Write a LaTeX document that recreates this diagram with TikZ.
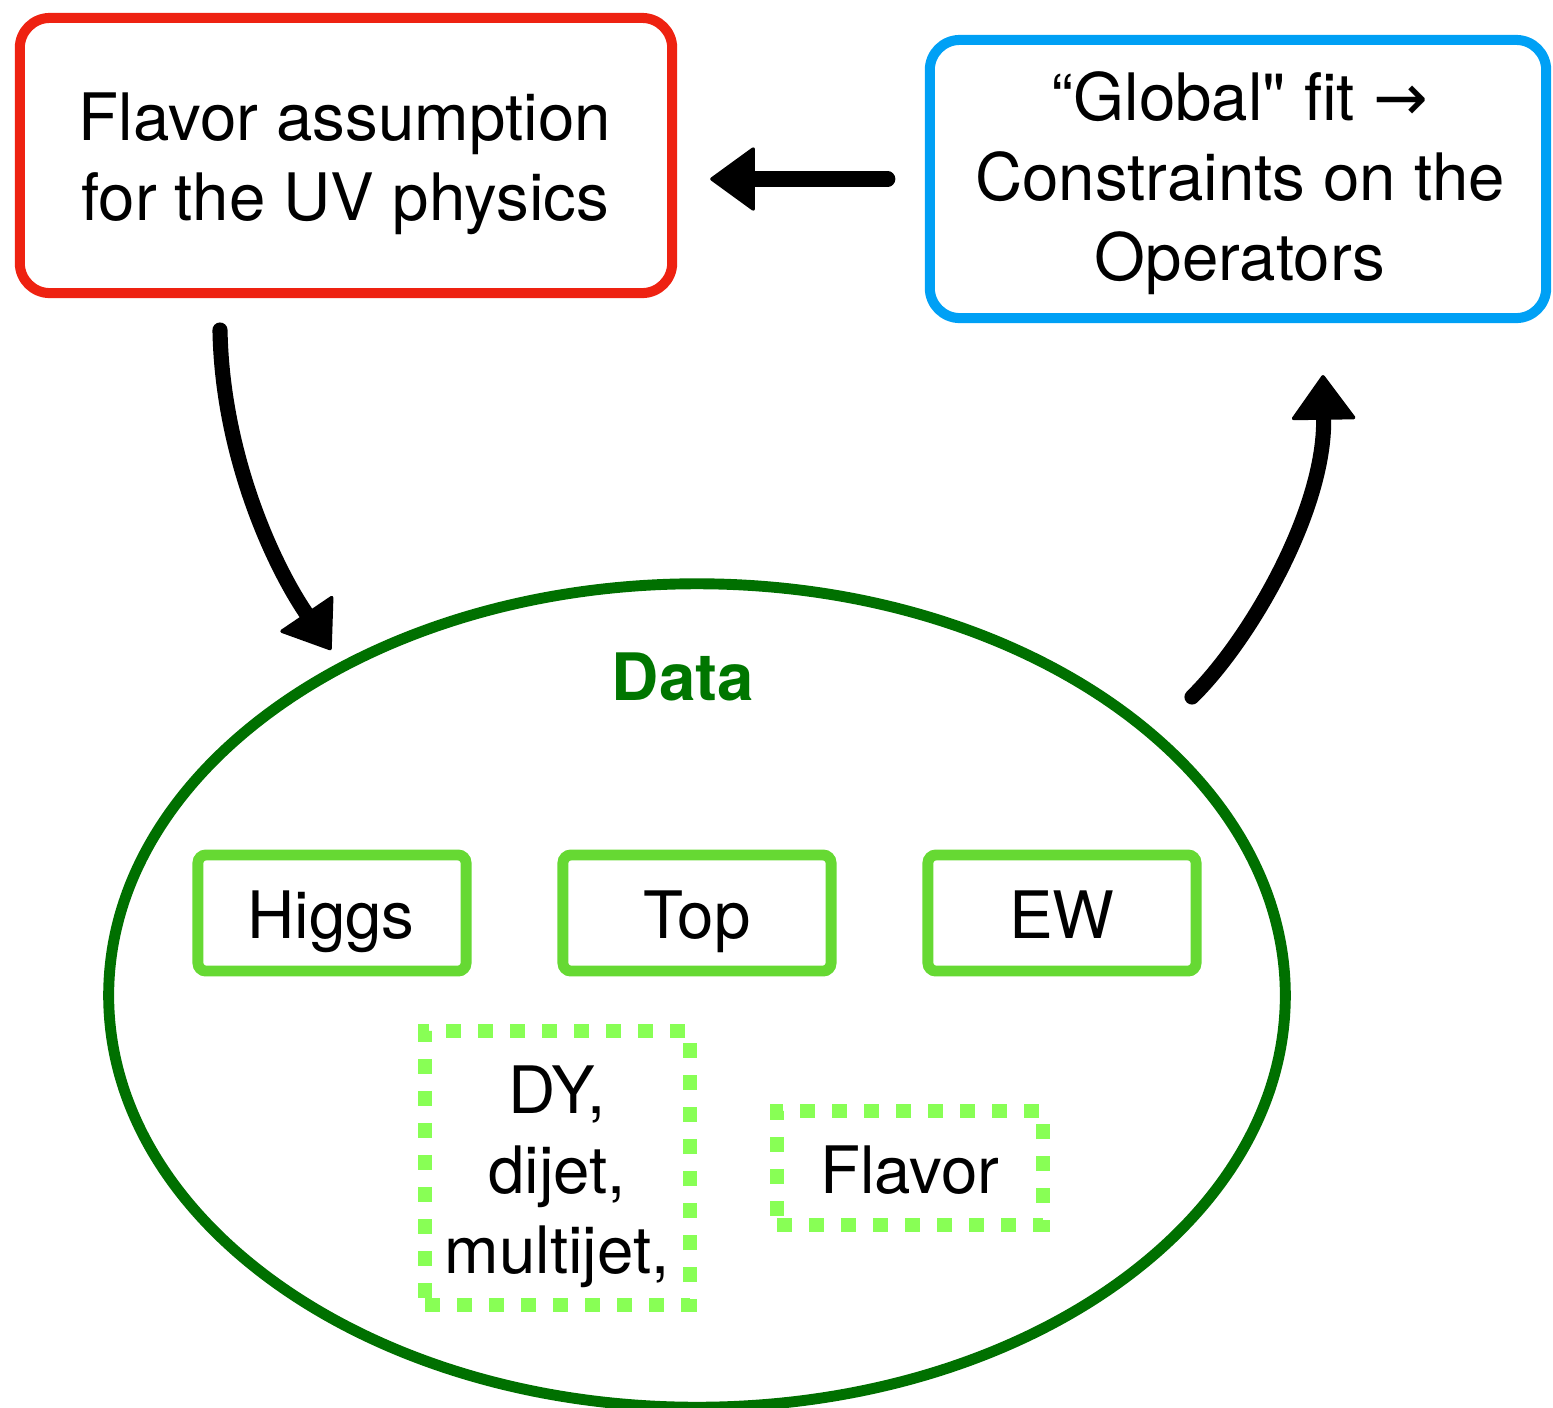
\documentclass[tikz,border=0pt]{standalone}
\usepackage{fontspec}
\setmainfont{TeX Gyre Heros}[Ligatures=TeXOff]
\newfontfamily\dejavu{DejaVu Sans}
\usetikzlibrary{arrows.meta,shapes.geometric}
\definecolor{boxred}{RGB}{238,34,17}
\definecolor{boxblue}{RGB}{0,160,245}
\definecolor{darkgreen}{RGB}{0,112,0}
\definecolor{datagreen}{RGB}{0,118,0}
\definecolor{boxgreen}{RGB}{102,217,51}
\definecolor{dotgreen}{RGB}{136,255,85}
\newcommand\cstack[1]{\vtop{\halign{\hfil##\hfil\cr#1\crcr}}}
\begin{document}
\begin{tikzpicture}[x=0.01cm,y=-0.01cm,
  font=\fontsize{18.6}{22.76}\selectfont,
  bigbox/.style={draw, rounded corners=0.3cm, line width=2.85pt, inner sep=0pt},
  smallbox/.style={draw=boxgreen, rounded corners=0.08cm, line width=3.1pt,
    minimum width=2.68cm, minimum height=1.16cm, inner sep=0pt},
  dotbox/.style={draw=dotgreen, line width=4pt, dash pattern=on 0.15cm off 0.17cm, inner sep=0pt},
  txt/.style={anchor=base, inner sep=0pt},
  arr/.style={line width=4.3pt, line cap=round, line join=round,
    -{Triangle[length=0.46cm,width=0.66cm,line width=1pt,round]}}]
\useasboundingbox (0,0) rectangle (1553,1408);

% main boxes
\node[bigbox, draw=boxred, minimum width=6.52cm, minimum height=2.75cm] (red) at (346,155.5) {};
\node[bigbox, draw=boxblue, minimum width=6.16cm, minimum height=2.78cm] (blue) at (1238,179) {};
\node[txt] (redt) at (345,140) {\cstack{Flavor assumption\cr for the UV physics}};
\node[txt] (bluet) at (1240,120) {\cstack{“Global" fit {\dejavu →}\cr Constraints on the\cr Operators}};

% data ellipse
\node[draw=darkgreen, ellipse, line width=3.1pt, minimum width=11.76cm, minimum height=8.23cm, inner sep=0pt] (data) at (697,995.5) {};
\node[txt, text=datagreen, font=\fontsize{18.6}{22.76}\selectfont\bfseries] (datat) at (683,700) {Data};

% solid green boxes
\node[smallbox] (higgs) at (332,913) {};
\node[smallbox] (top) at (697,913) {};
\node[smallbox] (ew) at (1062,913) {};
\node[txt] (higgst) at (331,938) {Higgs};
\node[txt] (topt) at (697,938) {Top};
\node[txt] (ewt) at (1062,938) {EW};

% dotted green boxes
\node[dotbox, minimum width=2.65cm, minimum height=2.74cm] (dy) at (557.5,1168) {};
\node[dotbox, minimum width=2.66cm, minimum height=1.14cm] (flav) at (910,1168) {};
\node[txt] (dyt) at (557,1113) {\cstack{DY,\cr dijet,\cr multijet,}};
\node[txt] (flavt) at (910,1193) {Flavor};

% arrows
\coordinate (a2s) at (220,330);
\coordinate (a2e) at (331,650);
\coordinate (a3s) at (1192,697);
\coordinate (a3e) at (1323,375);
\draw[arr, shorten <=0.37cm, shorten >=0.33cm] (blue.west) -- (red.east |- blue.west);
\draw[arr] (a2s) .. controls (222,450) and (270,560) .. (a2e);
\draw[arr] (a3s) .. controls (1250,640) and (1325,510) .. (a3e);
\end{tikzpicture}
\end{document}
